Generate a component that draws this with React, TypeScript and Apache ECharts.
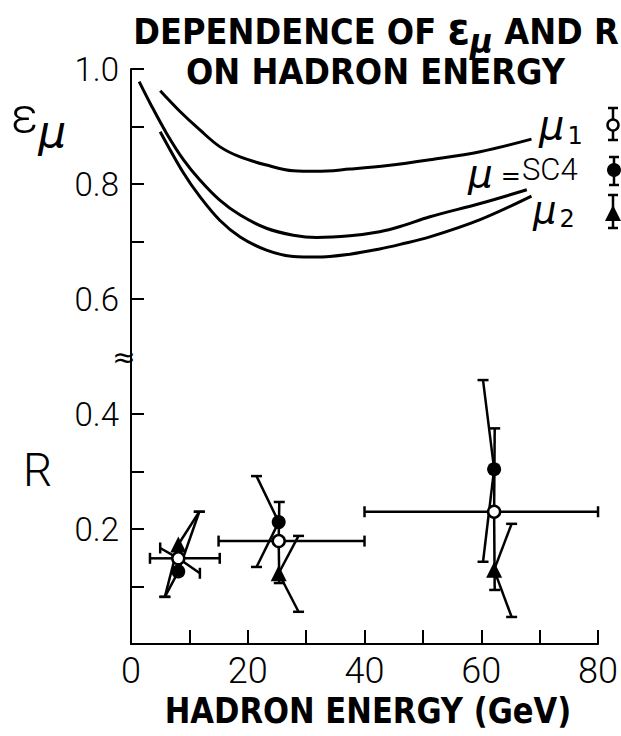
import React, { useEffect, useRef } from "react";
import * as echarts from "echarts";

// ---------- axis ticks / labels ----------
const xTickValues = [0, 10, 20, 30, 40, 50, 60, 70, 80];
const xLabelValues = [0, 20, 40, 60, 80];
const yTickValues = [0, 0.1, 0.2, 0.3, 0.4, 0.6, 0.7, 0.8, 0.9, 1.0];
const yLabelValues = [0.2, 0.4, 0.6, 0.8, 1.0];

// ---------- efficiency curves (epsilon_mu vs hadron energy) ----------
const energyMu1 = [5, 8.4, 11.8, 15.2, 18.7, 23.2, 27.8, 31.8, 37.5, 44, 51.2, 59.8, 68.6];
const effMu1 = [0.962, 0.926, 0.894, 0.865, 0.847, 0.833, 0.823, 0.822, 0.826, 0.832, 0.842, 0.856, 0.878];

const energySC4 = [1.4, 3.3, 6.1, 9.0, 11.8, 15.2, 18.7, 23.2, 27.8, 31.8, 37.5, 42.6, 46.1, 51.2, 59.8, 67.8];
const effSC4 = [0.978, 0.94, 0.888, 0.842, 0.807, 0.772, 0.746, 0.723, 0.711, 0.707, 0.71, 0.717, 0.726, 0.743, 0.766, 0.79];

const energyMu2 = [5, 9.0, 11.8, 15.2, 18.7, 23.2, 27.8, 31.8, 37.5, 42.6, 46.1, 51.2, 59.8, 68.6];
const effMu2 = [0.891, 0.819, 0.778, 0.737, 0.708, 0.685, 0.674, 0.673, 0.678, 0.687, 0.695, 0.708, 0.738, 0.779];

// ---------- R measurements ----------
const binCenters = [8.1, 25.3, 62.2];
const binLow = [3.25, 15.0, 40];
const binHigh = [15.2, 40, 80];
const rMu1 = [0.149, 0.179, 0.23];
const rSC4 = [0.126, 0.212, 0.304];
const rMu2 = [0.173, 0.123, 0.129];

// error-bar end points [energy, R]
const mu1ErrLow = [[11.8, 0.123], [25.4, 0.106], [62.3, 0.094]];
const mu1ErrHigh = [[5.0, 0.167], [25.4, 0.247], [62.3, 0.375]];
const sc4ErrLow = [[5.8, 0.082], [21.5, 0.134], [60.3, 0.143]];
const sc4ErrHigh = [[11.7, 0.23], [21.5, 0.292], [60.3, 0.459]];
const mu2ErrLow = [[5.8, 0.082], [28.7, 0.056], [65.2, 0.047]];
const mu2ErrHigh = [[11.7, 0.23], [28.7, 0.188], [65.2, 0.209]];

const FONT = "DejaVu Sans";
const THIN = "Roboto";

// rich-text token, vertically placed by its centre (relative to block top)
function tok(fs: number, center: number, extra: any = {}, padLeft = 0) {
  const lh = Math.round(fs * 0.55);
  return {
    fontSize: fs,
    lineHeight: lh,
    verticalAlign: "top",
    padding: [Math.max(0, center - fs / 2), 0, 0, padLeft],
    color: "#000",
    ...extra,
  };
}

export default function App() {
  const ref = useRef<HTMLDivElement>(null);

  useEffect(() => {
    if (!ref.current) return;
    const chart = echarts.init(ref.current, undefined, { renderer: "svg" });

    const errRows: number[][] = [];
    const pushEnds = (ys: number[], ends: number[][]) => {
      ends.forEach((e, i) => errRows.push([binCenters[i], ys[i], e[0], e[1]]));
    };
    pushEnds(rMu1, mu1ErrLow);
    pushEnds(rMu1, mu1ErrHigh);
    pushEnds(rSC4, sc4ErrLow);
    pushEnds(rSC4, sc4ErrHigh);
    pushEnds(rMu2, mu2ErrLow);
    pushEnds(rMu2, mu2ErrHigh);
    binCenters.forEach((c, i) => {
      errRows.push([c, rMu1[i], binLow[i], rMu1[i]]);
      errRows.push([c, rMu1[i], binHigh[i], rMu1[i]]);
    });

    const CAP = 11;
    const renderErr = (params: any, api: any) => {
      const p0 = api.coord([api.value(0), api.value(1)]);
      const p1 = api.coord([api.value(2), api.value(3)]);
      const dx = p1[0] - p0[0];
      const dy = p1[1] - p0[1];
      const h = CAP / 2;
      const cap =
        Math.abs(dx) > Math.abs(dy)
          ? { x1: p1[0], y1: p1[1] - h, x2: p1[0], y2: p1[1] + h }
          : { x1: p1[0] - h, y1: p1[1], x2: p1[0] + h, y2: p1[1] };
      return {
        type: "group",
        children: [
          { type: "line", shape: { x1: p0[0], y1: p0[1], x2: p1[0], y2: p1[1] }, style: { stroke: "#000", lineWidth: 2.5 } },
          { type: "line", shape: cap, style: { stroke: "#000", lineWidth: 2.5 } },
        ],
      };
    };

    const curve = (xs: number[], ys: number[], name: string) => ({
      type: "line",
      name,
      data: xs.map((x, i) => [x, ys[i]]),
      smooth: 0.35,
      showSymbol: false,
      symbol: "none",
      lineStyle: { color: "#000", width: 3 },
      z: 3,
    });

    const legendBar = (x: number, y1: number, y2: number) => [
      { type: "line", shape: { x1: x, y1, x2: x, y2 }, style: { stroke: "#000", lineWidth: 2.5 }, z: 100 },
      { type: "line", shape: { x1: x - 5, y1, x2: x + 5, y2: y1 }, style: { stroke: "#000", lineWidth: 2.5 }, z: 100 },
      { type: "line", shape: { x1: x - 5, y1: y2, x2: x + 5, y2 }, style: { stroke: "#000", lineWidth: 2.5 }, z: 100 },
    ];

    const option: any = {
      animation: false,
      backgroundColor: "#fff",
      grid: { left: 131, top: 69, width: 467.5, height: 575, containLabel: false },
      xAxis: {
        type: "value",
        min: 0,
        max: 80,
        interval: 10,
        axisLine: { lineStyle: { color: "#000", width: 2 } },
        axisTick: { inside: true, length: 14, lineStyle: { color: "#000", width: 2 }, customValues: xTickValues },
        axisLabel: {
          customValues: xLabelValues,
          color: "#000",
          fontFamily: THIN,
          fontWeight: 300,
          fontSize: 36,
          margin: 9,
          formatter: (v: number) => String(v),
        },
        splitLine: { show: false },
      },
      yAxis: {
        type: "value",
        min: 0,
        max: 1,
        interval: 0.1,
        axisLine: { show: true, lineStyle: { color: "#000", width: 2 } },
        axisTick: { show: true, inside: true, length: 13, lineStyle: { color: "#000", width: 2 }, customValues: yTickValues },
        axisLabel: {
          customValues: yLabelValues,
          color: "#000",
          fontFamily: THIN,
          fontWeight: 300,
          fontSize: 33,
          margin: 12,
          formatter: (v: number) => v.toFixed(1),
        },
        splitLine: { show: false },
      },
      series: [
        {
          type: "custom",
          coordinateSystem: "cartesian2d",
          renderItem: renderErr,
          data: errRows,
          encode: { x: [0, 2], y: [1, 3] },
          clip: false,
          silent: true,
          z: 2,
        },
        curve(energyMu1, effMu1, "μ1"),
        curve(energySC4, effSC4, "μ=SC4"),
        curve(energyMu2, effMu2, "μ2"),
        {
          type: "scatter",
          name: "μ2",
          data: binCenters.map((x, i) => [x, rMu2[i]]),
          symbol: "triangle",
          symbolSize: 16,
          itemStyle: { color: "#000", opacity: 1 },
          z: 5,
        },
        {
          type: "scatter",
          name: "μ=SC4",
          data: binCenters.map((x, i) => [x, rSC4[i]]),
          symbol: "circle",
          symbolSize: 14,
          itemStyle: { color: "#000", opacity: 1 },
          z: 5,
        },
        {
          type: "scatter",
          name: "μ1",
          data: binCenters.map((x, i) => [x, rMu1[i]]),
          symbol: "circle",
          symbolSize: 12,
          itemStyle: { color: "#fff", borderColor: "#000", borderWidth: 2.5, opacity: 1 },
          z: 6,
        },
      ],
      graphic: [
        {
          type: "text",
          x: 376,
          y: 0,
          scaleX: 0.92,
          z: 100,
          style: {
            text: "{t|DEPENDENCE OF }{e|ε}{s|μ}{t| AND R}",
            align: "center",
            verticalAlign: "top",
            textAlign: "center",
            textVerticalAlign: "top",
            fontFamily: FONT,
            fontWeight: "bold",
            rich: {
              t: tok(35, 31.6, { fontFamily: FONT, fontWeight: "bold" }),
              e: tok(44, 28.8, { fontFamily: FONT, fontWeight: "bold" }),
              s: tok(34, 42, { fontFamily: FONT, fontWeight: "bold", fontStyle: "italic" }),
            },
          },
        },
        {
          type: "text",
          x: 375.5,
          y: 72.5,
          scaleX: 0.92,
          z: 100,
          style: {
            text: "ON HADRON ENERGY",
            align: "center",
            verticalAlign: "middle",
            textAlign: "center",
            textVerticalAlign: "middle",
            fontFamily: FONT,
            fontWeight: "bold",
            fontSize: 35,
            fill: "#000",
          },
        },
        {
          type: "text",
          x: 368,
          y: 710.5,
          scaleX: 0.875,
          z: 100,
          style: {
            text: "HADRON ENERGY (GeV)",
            align: "center",
            verticalAlign: "middle",
            textAlign: "center",
            textVerticalAlign: "middle",
            fontFamily: FONT,
            fontWeight: "bold",
            fontSize: 35,
            fill: "#000",
          },
        },
        {
          type: "text",
          x: 11,
          y: 90,
          z: 100,
          style: {
            text: "{e|ε}{m|μ}",
            align: "left",
            verticalAlign: "top",
            textAlign: "left",
            textVerticalAlign: "top",
            rich: {
              e: tok(50, 26.4, { fontFamily: THIN, fontWeight: 300 }),
              m: tok(44, 41, { fontFamily: FONT, fontStyle: "italic" }),
            },
          },
        },
        {
          type: "text",
          x: 37.5,
          y: 470,
          z: 100,
          style: {
            text: "R",
            align: "center",
            verticalAlign: "middle",
            textAlign: "center",
            textVerticalAlign: "middle",
            fontFamily: THIN,
            fontWeight: 300,
            fontSize: 46,
            fill: "#000",
          },
        },
        {
          type: "text",
          x: 539,
          y: 100,
          z: 100,
          style: {
            text: "{m|μ}{d|1}",
            align: "left",
            verticalAlign: "top",
            textAlign: "left",
            textVerticalAlign: "top",
            rich: {
              m: tok(40, 24.6, { fontFamily: FONT, fontStyle: "italic" }),
              d: tok(24, 35.5, { fontFamily: FONT }, 3),
            },
          },
        },
        {
          type: "text",
          x: 468,
          y: 150,
          z: 100,
          style: {
            text: "{m|μ}{q|=}{s|SC4}",
            align: "left",
            verticalAlign: "top",
            textAlign: "left",
            textVerticalAlign: "top",
            rich: {
              m: tok(39, 23.1, { fontFamily: FONT, fontStyle: "italic" }),
              q: tok(24, 26, { fontFamily: FONT }, 8),
              s: tok(31, 19.5, { fontFamily: THIN, fontWeight: 300 }, 1),
            },
          },
        },
        {
          type: "text",
          x: 533,
          y: 190,
          z: 100,
          style: {
            text: "{m|μ}{d|2}",
            align: "left",
            verticalAlign: "top",
            textAlign: "left",
            textVerticalAlign: "top",
            rich: {
              m: tok(37, 20, { fontFamily: FONT, fontStyle: "italic" }),
              d: tok(24, 29, { fontFamily: FONT }, 3),
            },
          },
        },
        // axis break mark at 0.5
        {
          type: "text",
          x: 124,
          y: 357,
          z: 100,
          style: {
            text: "≈",
            align: "center",
            verticalAlign: "middle",
            textAlign: "center",
            textVerticalAlign: "middle",
            fontFamily: FONT,
            fontSize: 28,
            fill: "#000",
          },
        },
        // legend symbols at right edge
        ...legendBar(613, 108, 140),
        { type: "circle", shape: { cx: 613, cy: 125, r: 5.5 }, style: { fill: "#fff", stroke: "#000", lineWidth: 2.5 }, z: 101 },
        ...legendBar(614, 157, 185),
        { type: "circle", shape: { cx: 614, cy: 170, r: 7 }, style: { fill: "#000" }, z: 101 },
        ...legendBar(613, 195, 228),
        { type: "polygon", shape: { points: [[605, 221], [621, 221], [613, 205]] }, style: { fill: "#000" }, z: 101 },
      ],
    };

    chart.setOption(option);
    return () => chart.dispose();
  }, []);

  return (
    <div
      ref={ref}
      style={{ position: "fixed", left: 0, top: 0, width: 621, height: 736, background: "#fff" }}
    />
  );
}
